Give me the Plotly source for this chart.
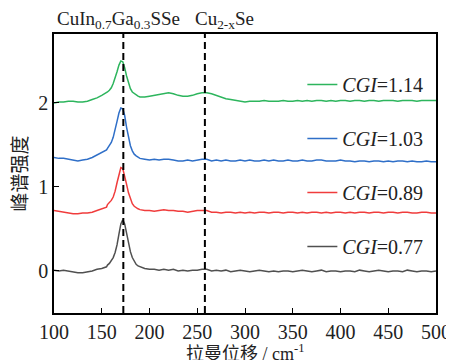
import plotly.graph_objects as go

# Raman shift sampling (cm^-1)
shift = ([100, 105, 110, 115, 120, 125, 130, 135, 140, 145, 150, 155]
         + [156, 158, 160, 162, 164, 166, 168, 170, 172, 174, 176, 178, 180, 182, 184, 186, 188, 190]
         + list(range(195, 501, 5)))

cgi_077 = ([0.01, 0.00, 0.01, 0.00, -0.01, -0.02, -0.02, -0.01, 0.00, 0.02, 0.03, 0.05]
           + [0.07, 0.09, 0.12, 0.16, 0.22, 0.31, 0.44, 0.56, 0.61, 0.56, 0.45, 0.33, 0.23, 0.16, 0.11, 0.08, 0.06, 0.05]
           + [0.03, 0.02, 0.02, 0.01, 0.02, 0.01, 0.02, 0.00, 0.01, 0.00, 0.01, 0.01, 0.02, 0.02, 0.00, 0.01,
              0.00, 0.01, -0.01, 0.00, 0.01, 0.00, -0.01, 0.00, 0.01, 0.00, -0.01, 0.00, -0.01, 0.00, 0.00,
              -0.01, 0.00, 0.01, 0.00, -0.01, 0.00, 0.01, -0.01, 0.00, 0.00, -0.01, 0.00, 0.00, -0.01, 0.01,
              0.00, -0.01, 0.00, 0.01, 0.00, -0.01, 0.00, 0.00, -0.01, 0.01, 0.00, -0.01, 0.00, 0.00, -0.01, 0.00])

cgi_089 = ([0.72, 0.71, 0.70, 0.69, 0.68, 0.68, 0.69, 0.69, 0.70, 0.72, 0.74, 0.76]
           + [0.79, 0.81, 0.84, 0.88, 0.95, 1.05, 1.16, 1.23, 1.22, 1.14, 1.03, 0.93, 0.85, 0.80, 0.77, 0.75, 0.74, 0.73]
           + [0.72, 0.72, 0.71, 0.72, 0.73, 0.72, 0.72, 0.71, 0.71, 0.70, 0.71, 0.72, 0.72, 0.72, 0.70, 0.70,
              0.69, 0.70, 0.70, 0.69, 0.70, 0.69, 0.70, 0.69, 0.70, 0.70, 0.69, 0.70, 0.70, 0.69, 0.70,
              0.70, 0.69, 0.70, 0.69, 0.70, 0.70, 0.69, 0.70, 0.69, 0.70, 0.70, 0.69, 0.70, 0.69, 0.70,
              0.70, 0.69, 0.70, 0.70, 0.69, 0.70, 0.70, 0.69, 0.70, 0.70, 0.69, 0.69, 0.70, 0.70, 0.69, 0.69])

cgi_103 = ([1.35, 1.34, 1.34, 1.33, 1.32, 1.31, 1.32, 1.33, 1.35, 1.38, 1.41, 1.44]
           + [1.46, 1.49, 1.53, 1.59, 1.67, 1.78, 1.88, 1.94, 1.93, 1.85, 1.71, 1.58, 1.49, 1.43, 1.39, 1.37, 1.35, 1.34]
           + [1.33, 1.32, 1.33, 1.32, 1.33, 1.33, 1.32, 1.31, 1.31, 1.32, 1.31, 1.32, 1.33, 1.33, 1.31, 1.32,
              1.31, 1.32, 1.31, 1.31, 1.32, 1.31, 1.32, 1.31, 1.31, 1.32, 1.31, 1.32, 1.31, 1.31, 1.32,
              1.31, 1.31, 1.32, 1.31, 1.31, 1.32, 1.32, 1.31, 1.31, 1.31, 1.32, 1.31, 1.31, 1.30, 1.31,
              1.31, 1.30, 1.31, 1.31, 1.30, 1.31, 1.30, 1.31, 1.31, 1.30, 1.31, 1.30, 1.30, 1.31, 1.30, 1.30])

cgi_114 = ([2.00, 2.01, 2.01, 2.02, 2.02, 2.01, 2.01, 2.02, 2.04, 2.06, 2.09, 2.12]
           + [2.13, 2.15, 2.18, 2.23, 2.29, 2.37, 2.45, 2.50, 2.49, 2.42, 2.32, 2.23, 2.17, 2.13, 2.11, 2.09, 2.08, 2.07]
           + [2.07, 2.08, 2.09, 2.10, 2.11, 2.12, 2.11, 2.09, 2.08, 2.08, 2.09, 2.11, 2.12, 2.12, 2.11, 2.09,
              2.07, 2.05, 2.04, 2.03, 2.02, 2.01, 2.02, 2.02, 2.02, 2.03, 2.02, 2.02, 2.02, 2.03, 2.02,
              2.02, 2.03, 2.02, 2.03, 2.02, 2.03, 2.03, 2.02, 2.03, 2.02, 2.03, 2.03, 2.02, 2.03, 2.03,
              2.02, 2.03, 2.03, 2.02, 2.03, 2.03, 2.03, 2.02, 2.03, 2.03, 2.03, 2.02, 2.03, 2.03, 2.03, 2.03])

series_names = ["<i>CGI</i>=1.14", "<i>CGI</i>=1.03", "<i>CGI</i>=0.89", "<i>CGI</i>=0.77"]
series_values = [cgi_114, cgi_103, cgi_089, cgi_077]
series_colors = ["#2db55d", "#2f6fc8", "#f03c3c", "#505050"]

peak_positions = [172.6, 258]
peak_labels = ["CuIn<sub>0.7</sub>Ga<sub>0.3</sub>SSe", "Cu<sub>2-x</sub>Se"]

x_title = "拉曼位移 / cm<sup>-1</sup>"
y_title = "峰谱强度"

x_ticks = [100, 150, 200, 250, 300, 350, 400, 450, 500]
y_ticks = [0, 1, 2]

for v in series_values:
    assert len(v) == len(shift), (len(v), len(shift))

SERIF = "Liberation Serif, Times New Roman, Noto Sans CJK SC, serif"
CJK = "Noto Sans CJK SC, sans-serif"

fig = go.Figure()
for i, (name, vals, col) in enumerate(zip(series_names, series_values, series_colors)):
    fig.add_trace(go.Scatter(x=shift, y=vals, mode="lines", name=name,
                             legendgroup="g%d" % i,
                             line=dict(color=col, width=1.5)))

for px in peak_positions:
    fig.add_shape(type="line", xref="x", yref="paper", x0=px, x1=px, y0=0, y1=1,
                  line=dict(color="black", width=2, dash="7px,4px"), layer="above")

label_anchor = [0.003, 0.364]
for txt, lx in zip(peak_labels, label_anchor):
    fig.add_annotation(text=txt, x=lx, xref="paper", y=1.05, yref="paper",
                       xanchor="left", yanchor="middle", showarrow=False,
                       font=dict(family=SERIF, size=19, color="#222"))

# axis titles
fig.add_annotation(text=x_title, x=0.5, xref="paper", y=-0.14, yref="paper",
                   xanchor="center", yanchor="middle", showarrow=False,
                   font=dict(family=SERIF, size=18, color="#222"))
fig.add_annotation(text=y_title, x=-0.094, xref="paper", y=0.5, yref="paper",
                   xanchor="center", yanchor="middle", showarrow=False, textangle=-90,
                   font=dict(family=CJK, size=19, color="#222"))

# the page places the figure 8px in from the top-left corner of the window
fig.update_layout(
    width=446, height=352,
    margin=dict(l=46, r=18, t=26, b=47),
    paper_bgcolor="white", plot_bgcolor="white",
    showlegend=True,
    legend=dict(x=0.98, xanchor="right", y=0.889, yanchor="top",
                bgcolor="rgba(0,0,0,0)", font=dict(family=SERIF, size=20, color="#222"),
                tracegroupgap=25, traceorder="grouped", itemwidth=30),
    xaxis=dict(range=[100, 500], tickvals=x_ticks, ticks="inside", ticklen=5,
               tickwidth=1.2, tickcolor="black", automargin=False,
               showline=True, linecolor="black", linewidth=1.5, mirror=True,
               showgrid=False, zeroline=False,
               tickfont=dict(family=SERIF, size=20, color="#222")),
    yaxis=dict(range=[-0.5, 2.82], tickvals=y_ticks, ticks="inside", ticklen=5,
               tickwidth=1.2, tickcolor="black", automargin=False,
               showline=True, linecolor="black", linewidth=1.5, mirror=True,
               showgrid=False, zeroline=False,
               tickfont=dict(family=SERIF, size=20, color="#222")),
)

fig.write_html("out.html")
